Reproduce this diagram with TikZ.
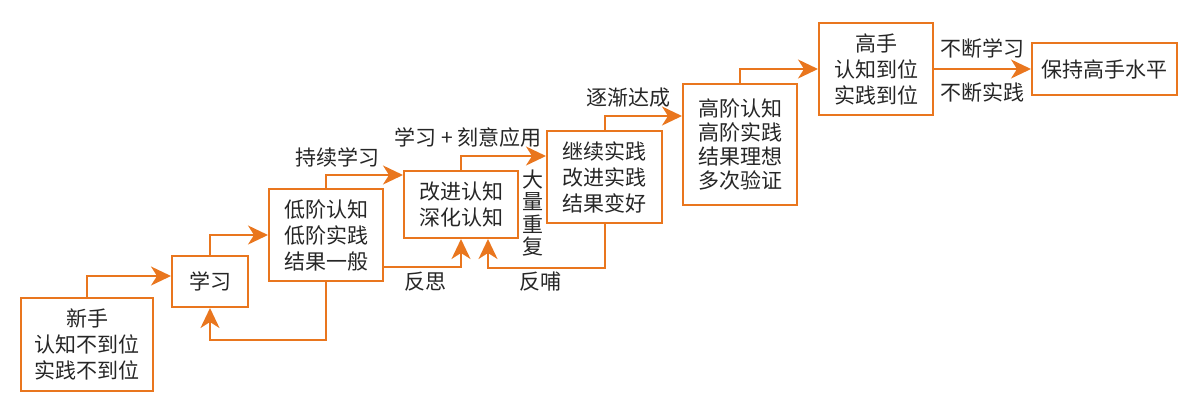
\documentclass[tikz,border=0pt]{standalone}
\usepackage{fontspec}
\setmainfont{Noto Sans CJK SC}
\usetikzlibrary{arrows.meta,calc}
\definecolor{stepline}{RGB}{233,118,30}
\tikzset{
  stagebox/.style={draw=stepline, line width=1pt, align=center, inner sep=0pt,
    text=black!85, font=\fontsize{10.5}{13}\selectfont},
  flow/.style={draw=stepline, line width=1pt,
    -{Stealth[length=10pt,width=9.5pt,inset=3pt]}},
  tag/.style={inner sep=0pt, text=black!85, font=\fontsize{10.5}{13}\selectfont},
}
\begin{document}
\begin{tikzpicture}[x=0.5pt,y=-0.5pt]
\useasboundingbox (0,0) rectangle (1199,409);

\node[stagebox, minimum width=66pt, minimum height=46.5pt] (xs) at (87,344.5) {新手\\认知不到位\\实践不到位};
\node[stagebox, minimum width=38pt, minimum height=25.5pt] (xx) at (210,281.5) {学习};
\node[stagebox, minimum width=57pt, minimum height=46pt] (dj) at (326,235) {低阶认知\\低阶实践\\结果一般};
\node[stagebox, minimum width=57pt, minimum height=33.5pt] (gj) at (461,204.5) {改进认知\\深化认知};
\node[stagebox, minimum width=57.5pt, minimum height=46pt] (jx) at (604.5,177) {继续实践\\改进实践\\结果变好};
\node[stagebox, minimum width=57pt, minimum height=60.5pt, font=\fontsize{10.5}{12}\selectfont] (gjie) at (740,144.5) {高阶认知\\高阶实践\\结果理想\\多次验证};
\node[stagebox, minimum width=57pt, minimum height=46pt] (gs) at (876,69) {高手\\认知到位\\实践到位};
\node[stagebox, minimum width=72.5pt, minimum height=26pt] (bc) at (1104.5,69) {保持高手水平};

\draw[flow] (xs.north) |- ($(xs.north -| xx.west)+(0,-21)$);
\draw[flow] (xx.north) |- ($(xx.north -| dj.west)+(0,-20)$);
\draw[flow] (dj.north) |- ($(dj.north -| gj.west)+(0,-13)$);
\draw[flow] (gj.north) |- ($(gj.north -| jx.west)+(0,-14)$);
\draw[flow] (jx.north) |- ($(jx.north -| gjie.west)+(0,-14)$);
\draw[flow] (gjie.north) |- ($(gjie.north -| gs.west)+(0,-14)$);
\draw[flow] (gs) -- (bc);

\draw[flow] (dj.south) -- ++(0,58) -| (xx.south);
\draw[flow] ($(dj.south east)+(0,-15)$) -| (gj.south);
\draw[flow] (jx.south) -- ++(0,44) -| ($(gj.south)+(27,0)$);

\node[tag] (cxxx) at (337,157) {持续学习};
\node[tag] (kyyy) at (468,137) {学习 + 刻意应用};
\node[tag, align=center, font=\fontsize{10.5}{11.2}\selectfont] (dlcf) at (533,213) {大\\量\\重\\复};
\node[tag] (fs) at (425,282) {反思};
\node[tag] (fb) at (540,282) {反哺};
\node[tag] (zjdc) at (628,98) {逐渐达成};
\node[tag] (bdxx) at (982,48) {不断学习};
\node[tag] (bdsj) at (982,92) {不断实践};
\end{tikzpicture}
\end{document}
